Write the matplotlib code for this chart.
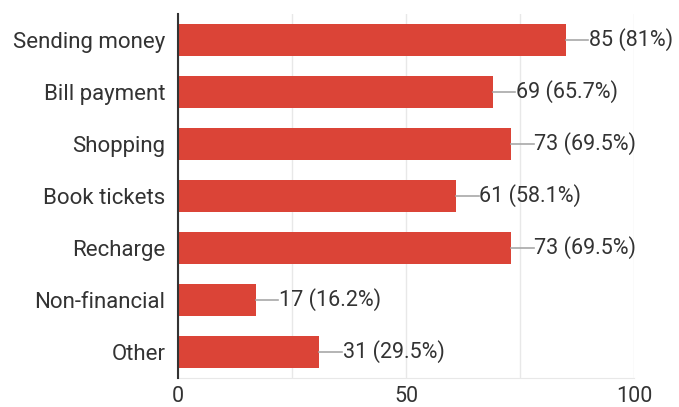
import matplotlib.pyplot as plt

categories = ['Sending money', 'Bill payment', 'Shopping', 'Book tickets',
              'Recharge', 'Non-financial', 'Other']
counts = [85, 69, 73, 61, 73, 17, 31]
percents = ['81%', '65.7%', '69.5%', '58.1%', '69.5%', '16.2%', '29.5%']
xticks = [0, 50, 100]

plt.rcParams['font.family'] = ['Roboto', 'DejaVu Sans']

fig = plt.figure(figsize=(6.79, 4.07), dpi=100)
ax = fig.add_axes([178/679, 1 - 378/407, 456/679, 364/407])

y = list(range(len(categories)))
ax.barh(y, counts, height=0.615, color='#db4437', zorder=3)

for yi, c, p in zip(y, counts, percents):
    ax.plot([c, c + 5], [yi, yi], color='#a8a8a8', lw=1.2, zorder=3)
    ax.text(c + 5.1, yi, f'{c} ({p})', va='center', ha='left',
            fontsize=15.5, color='#333333')

ax.set_xlim(0, 100)
ax.set_ylim(len(categories) - 0.5, -0.5)
ax.set_yticks(y)
ax.set_yticklabels(categories, fontsize=16, color='#333333')
ax.set_xticks(xticks)
ax.set_xticklabels([str(t) for t in xticks], fontsize=15.5, color='#333333')
ax.set_xticks([25, 75], minor=True)
ax.tick_params(axis='both', which='both', length=0)
ax.tick_params(axis='x', pad=6)
ax.tick_params(axis='y', pad=9)

ax.grid(axis='x', which='both', color='#e8e8e8', lw=1, zorder=0)
for s in ['top', 'right']:
    ax.spines[s].set_visible(False)
ax.spines['bottom'].set_color('#e8e8e8')
ax.spines['left'].set_color('#333333')
ax.spines['left'].set_linewidth(1.5)
ax.spines['left'].set_zorder(4)

fig.savefig('out.png', dpi=100)
